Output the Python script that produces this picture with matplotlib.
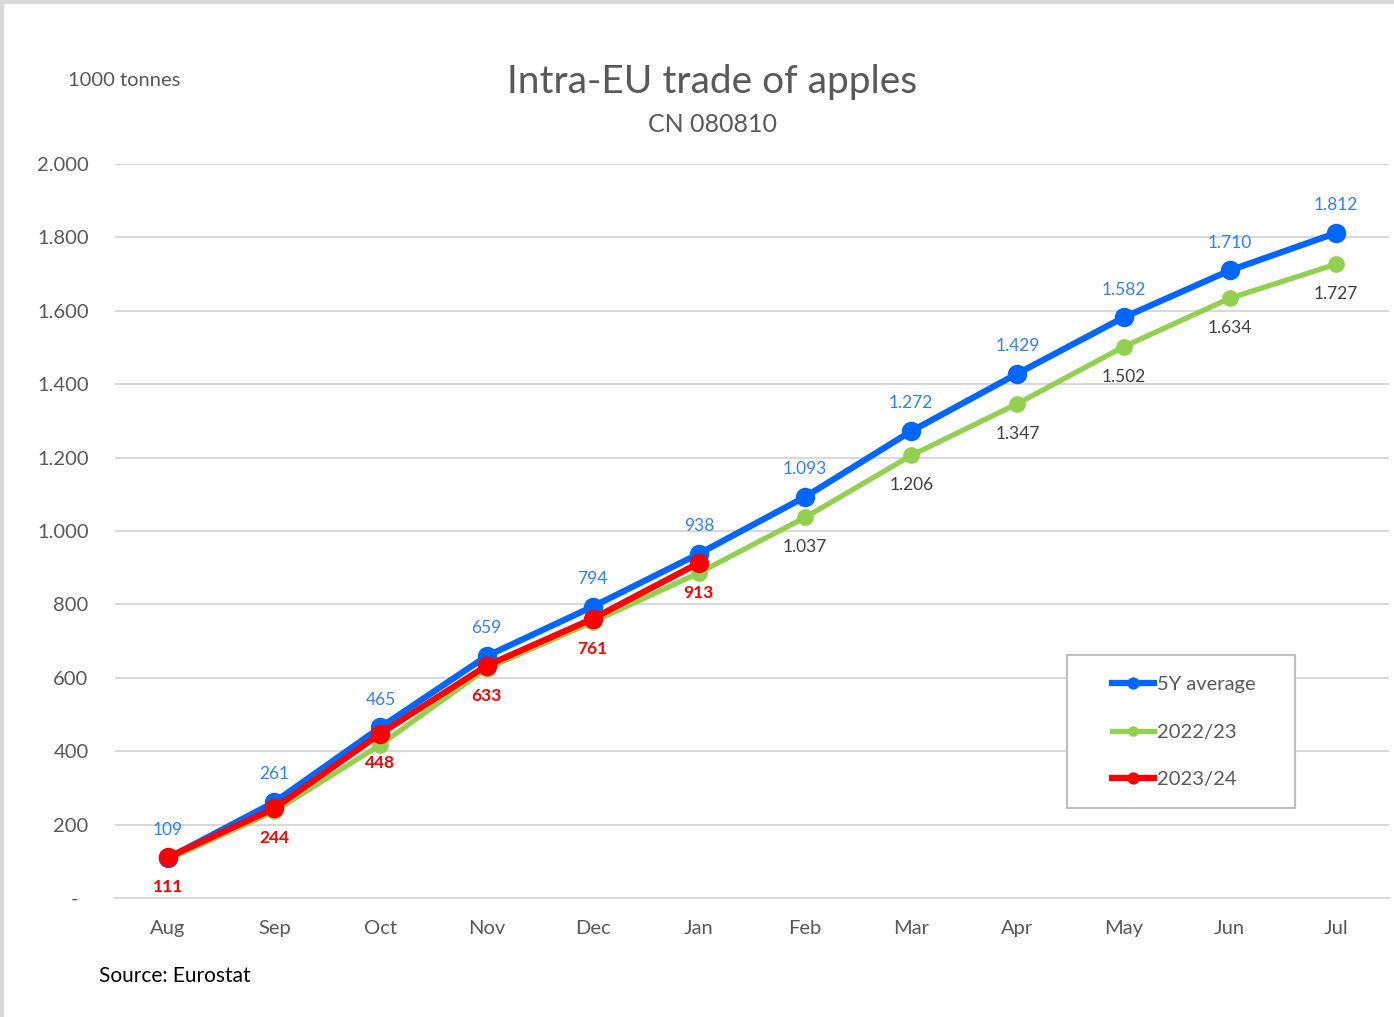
import matplotlib
matplotlib.use('Agg')
import matplotlib.pyplot as plt
from matplotlib.patches import Rectangle
from matplotlib.ticker import FuncFormatter

plt.rcParams['font.family'] = ['Lato', 'DejaVu Sans']

# data (1000 tonnes, cumulative)
months = ['Aug', 'Sep', 'Oct', 'Nov', 'Dec', 'Jan', 'Feb', 'Mar', 'Apr', 'May', 'Jun', 'Jul']
avg_5y = [109, 261, 465, 659, 794, 938, 1093, 1272, 1429, 1582, 1710, 1812]
y2022 = [105, 236, 418, 625, 752, 886, 1037, 1206, 1347, 1502, 1634, 1727]
y2023 = [111, 244, 448, 633, 761, 913]
# which points carry a value label on the green line
y2022_labelled = [False] * 6 + [True] * 6

def fmt_num(v):
    if v == 0:
        return '-  '
    return f'{v:,.0f}'.replace(',', '.')

BLUE = '#0066FF'
BLUE_TXT = '#2F80FF'
GREEN = '#92D050'
RED = '#FF0000'
GREY_TXT = '#595959'

fig = plt.figure(figsize=(13.94, 10.17), dpi=100)
ax = fig.add_axes([0.0825, 0.1170, 0.9139, 0.7217])

x = list(range(len(months)))
ax.plot(x, y2022, color=GREEN, lw=3.8, marker='o', ms=11, zorder=3, label='2022/23')
ax.plot(x, avg_5y, color=BLUE, lw=4.5, marker='o', ms=13, zorder=4, label='5Y average')
ax.plot(x[:len(y2023)], y2023, color=RED, lw=4.5, marker='o', ms=13, zorder=5, label='2023/24')

# value labels
for i, v in enumerate(avg_5y):
    ax.annotate(fmt_num(v), (i, v), xytext=(0, 20), textcoords='offset points',
                ha='center', va='center', fontsize=12.5, color=BLUE_TXT)
for i, v in enumerate(y2022):
    if y2022_labelled[i]:
        ax.annotate(fmt_num(v), (i, v), xytext=(0, -21.5), textcoords='offset points',
                    ha='center', va='center', fontsize=12.5, color='#404040')
for i, v in enumerate(y2023):
    ax.annotate(fmt_num(v), (i, v), xytext=(0, -21.5), textcoords='offset points',
                ha='center', va='center', fontsize=12.5, color=RED, fontweight='bold')

ax.set_xlim(-0.5, 11.5)
ax.set_ylim(0, 2000)
ax.set_xticks(x)
ax.set_xticklabels(months)
ax.set_yticks(range(0, 2001, 200))
ax.yaxis.set_major_formatter(FuncFormatter(lambda v, p: fmt_num(v)))
ax.tick_params(axis='both', length=0, labelsize=14.5, labelcolor=GREY_TXT)
ax.tick_params(axis='y', pad=19)
ax.tick_params(axis='x', pad=16)
ax.grid(axis='y', color='#D9D9D9', lw=1.5)
ax.set_axisbelow(True)
for s in ['top', 'right', 'left']:
    ax.spines[s].set_visible(False)
ax.spines['bottom'].set_color('#D9D9D9')
ax.spines['bottom'].set_linewidth(1.5)

# legend box
box = Rectangle((1067 / 1394, 1 - 808 / 1017), 228 / 1394, 153 / 1017,
                transform=fig.transFigure, facecolor='white', edgecolor='#BFBFBF',
                lw=1.5, zorder=6, clip_on=False)
ax.add_patch(box)
handles, labels = ax.get_legend_handles_labels()
order = [1, 0, 2]
leg = ax.legend([handles[k] for k in order], [labels[k] for k in order],
                loc='center left', bbox_to_anchor=(1102 / 1394, 1 - 732 / 1017),
                bbox_transform=fig.transFigure, frameon=False, fontsize=14.5,
                labelspacing=1.5, handlelength=2.1, handletextpad=0.15,
                borderpad=0, markerscale=0.6)
leg.set_zorder(7)
for t in leg.get_texts():
    t.set_color(GREY_TXT)

# titles and notes
fig.text(0.5108, 1 - 82 / 1017, 'Intra-EU trade of apples', ha='center', va='center',
         fontsize=28, color=GREY_TXT)
fig.text(0.5108, 1 - 125 / 1017, 'CN 080810', ha='center', va='center',
         fontsize=18, color=GREY_TXT)
fig.text(68 / 1394, 1 - 81 / 1017, '1000 tonnes', ha='left', va='center',
         fontsize=14.5, color=GREY_TXT)
fig.text(99 / 1394, 1 - 976 / 1017, 'Source: Eurostat', ha='left', va='center',
         fontsize=15, color='black')

# light grey frame at top and left
fig.patches.append(Rectangle((0, 1 - 4 / 1017), 1, 4 / 1017, transform=fig.transFigure,
                             facecolor='#D9D9D9', edgecolor='none'))
fig.patches.append(Rectangle((0, 0), 4 / 1394, 1, transform=fig.transFigure,
                             facecolor='#D9D9D9', edgecolor='none'))

fig.savefig('out.png', dpi=100)
